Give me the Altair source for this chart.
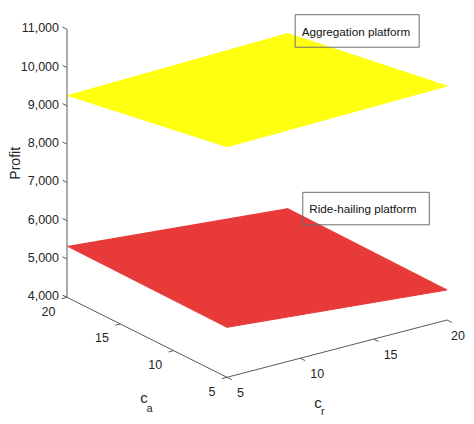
import altair as alt
import pandas as pd

# ---------------- data ----------------
corner_ca = [20, 5, 5, 20]
corner_cr = [5, 5, 20, 20]
aggregation_profit = [9280, 10020, 10110, 9400]
ridehailing_profit = [5340, 5305, 4785, 4830]

z_ticks = [4000, 5000, 6000, 7000, 8000, 9000, 10000, 11000]
z_tick_labels = ["4,000", "5,000", "6,000", "7,000", "8,000", "9,000", "10,000", "11,000"]
ca_ticks = [5, 10, 15, 20]
cr_ticks = [5, 10, 15, 20]

plane_names = ["Aggregation platform", "Ride-hailing platform"]

# ---------------- view (orthographic projection of the 3-D box) ----------------
O_X, O_Y = 227.0, 377.3      # page pixel of (c_a=5, c_r=5, profit=4000)
A_X, A_Y = -10.667, -5.333   # per unit c_a
R_X, R_Y = 14.667, -3.82     # per unit c_r
Z_Y = -0.03829               # per unit profit


def px(ca, cr):
    return f"{O_X} + ({ca}-5)*({A_X}) + ({cr}-5)*({R_X})"


def py(ca, cr, z):
    return f"{O_Y} + ({ca}-5)*({A_Y}) + ({cr}-5)*({R_Y}) + ({z}-4000)*({Z_Y})"


W, H = 458, 408
xs = alt.Scale(domain=[8, 8 + W], nice=False, zero=False)
ys = alt.Scale(domain=[8, 8 + H], nice=False, zero=False, reverse=True)
X = alt.X("sx:Q", scale=xs, axis=None)
Y = alt.Y("sy:Q", scale=ys, axis=None)

FONT = "Liberation Sans"
TXT = "#262626"
AX = "#5a5a5a"

proj = dict(sx=px("datum.ca", "datum.cr"), sy=py("datum.ca", "datum.cr", "datum.z"))


def plane(values, color):
    df = pd.DataFrame({"ca": corner_ca, "cr": corner_cr, "z": values, "k": [0, 1, 2, 3]})
    return (
        alt.Chart(df)
        .transform_calculate(**proj)
        .mark_line(fill=color, stroke=color, strokeWidth=1, interpolate="linear")
        .encode(x=X, y=Y, order="k:Q")
    )


red_plane = plane(ridehailing_profit, "#e93a3a")
yellow_plane = plane(aggregation_profit, "#ffff10")

# axis lines
axes_df = pd.DataFrame({
    "ca": [20, 20, 5], "cr": [5, 5, 5], "z": [4000, 4000, 4000],
    "ca2": [20, 5, 5], "cr2": [5, 5, 20], "z2": [11000, 4000, 4000],
})
axis_lines = (
    alt.Chart(axes_df)
    .transform_calculate(**proj, sx2=px("datum.ca2", "datum.cr2"), sy2=py("datum.ca2", "datum.cr2", "datum.z2"))
    .mark_rule(color=AX, strokeWidth=1)
    .encode(x=X, y=Y, x2="sx2:Q", y2="sy2:Q")
)

# ticks
tick_rows = []
for z in z_ticks:
    tick_rows.append(dict(ca=20, cr=5, z=z, ca2=20.42, cr2=5, z2=z))
for ca in ca_ticks:
    tick_rows.append(dict(ca=ca, cr=5, z=4000, ca2=ca, cr2=4.65, z2=4000))
for cr in cr_ticks:
    tick_rows.append(dict(ca=5, cr=cr, z=4000, ca2=4.55, cr2=cr, z2=4000))
ticks = (
    alt.Chart(pd.DataFrame(tick_rows))
    .transform_calculate(**proj, sx2=px("datum.ca2", "datum.cr2"), sy2=py("datum.ca2", "datum.cr2", "datum.z2"))
    .mark_rule(color=AX, strokeWidth=1)
    .encode(x=X, y=Y, x2="sx2:Q", y2="sy2:Q")
)

# tick labels
z_lab = (
    alt.Chart(pd.DataFrame({"ca": 20, "cr": 5, "z": z_ticks, "t": z_tick_labels}))
    .transform_calculate(**proj)
    .mark_text(align="right", baseline="middle", dx=-8, dy=-1, font=FONT, fontSize=12.5, color=TXT)
    .encode(x=X, y=Y, text="t:N")
)
ca_lab = (
    alt.Chart(pd.DataFrame({"ca": ca_ticks, "cr": 5, "z": 4000, "t": [str(v) for v in ca_ticks]}))
    .transform_calculate(**proj)
    .mark_text(align="right", baseline="middle", dx=-11.5, dy=14.5, font=FONT, fontSize=12.5, color=TXT)
    .encode(x=X, y=Y, text="t:N")
)
cr_lab = (
    alt.Chart(pd.DataFrame({"ca": 5, "cr": cr_ticks, "z": 4000, "t": [str(v) for v in cr_ticks]}))
    .transform_calculate(**proj)
    .transform_calculate(lx="min(datum.sx + 10, 451)")   # keep the last label inside the page
    .mark_text(align="left", baseline="middle", dy=16, font=FONT, fontSize=12.5, color=TXT)
    .encode(x=alt.X("lx:Q", scale=xs, axis=None), y=Y, text="t:N")
)

# axis titles
profit_title = (
    alt.Chart(pd.DataFrame({"ca": [20], "cr": [5], "z": [7500], "t": ["Profit"]}))
    .transform_calculate(**proj)
    .mark_text(angle=270, align="center", baseline="middle", dy=-50.5, font=FONT, fontSize=14, color=TXT)
    .encode(x=X, y=Y, text="t:N")
)
ca_mid = pd.DataFrame({"ca": [12.5], "cr": [5], "z": [4000]})
cr_mid = pd.DataFrame({"ca": [5], "cr": [12.5], "z": [4000]})
ca_c = alt.Chart(ca_mid.assign(t="c")).transform_calculate(**proj).mark_text(
    align="center", baseline="alphabetic", dx=-3, dy=65.5, font=FONT, fontSize=15, color=TXT
).encode(x=X, y=Y, text="t:N")
ca_s = alt.Chart(ca_mid.assign(t="a")).transform_calculate(**proj).mark_text(
    align="left", baseline="alphabetic", dx=-0.5, dy=74.3, font=FONT, fontSize=11, color=TXT
).encode(x=X, y=Y, text="t:N")
cr_c = alt.Chart(cr_mid.assign(t="c")).transform_calculate(**proj).mark_text(
    align="center", baseline="alphabetic", dx=-19, dy=59.7, font=FONT, fontSize=15, color=TXT
).encode(x=X, y=Y, text="t:N")
cr_s = alt.Chart(cr_mid.assign(t="r")).transform_calculate(**proj).mark_text(
    align="left", baseline="alphabetic", dx=-16, dy=66.5, font=FONT, fontSize=11, color=TXT
).encode(x=X, y=Y, text="t:N")

# text annotations (anchored at 3-D points, as MATLAB text(...))
ann_df = pd.DataFrame({
    "ca": [20, 20], "cr": [21, 21.52], "z": [9340, 4650], "t": plane_names,
    "w": [124, 126.5],
})
ann_box = (
    alt.Chart(ann_df)
    .transform_calculate(**proj)
    .transform_calculate(bx=alt.datum.sx - 6.5, bx2=alt.datum.sx - 6.5 + alt.datum.w,
                         by=alt.datum.sy - 17, by2=alt.datum.sy + 15.5)
    .mark_rect(fill=None, fillOpacity=0, stroke="#6e6e6e", strokeWidth=1)
    .encode(x=alt.X("bx:Q", scale=xs, axis=None), x2="bx2:Q",
            y=alt.Y("by:Q", scale=ys, axis=None), y2="by2:Q")
)
ann_text = (
    alt.Chart(ann_df)
    .transform_calculate(**proj)
    .mark_text(align="left", baseline="middle", font=FONT, fontSize=11.7, color="#111111")
    .encode(x=X, y=Y, text="t:N")
)

chart = alt.layer(
    red_plane, yellow_plane, axis_lines, ticks, z_lab, ca_lab, cr_lab,
    profit_title, ca_c, ca_s, cr_c, cr_s, ann_box, ann_text,
).properties(
    width=W, height=H, padding=0, autosize=alt.AutoSizeParams(type="none"), background="white"
).configure_view(stroke=None)

chart.save("out.html", embed_options={"renderer": "svg", "actions": False})
